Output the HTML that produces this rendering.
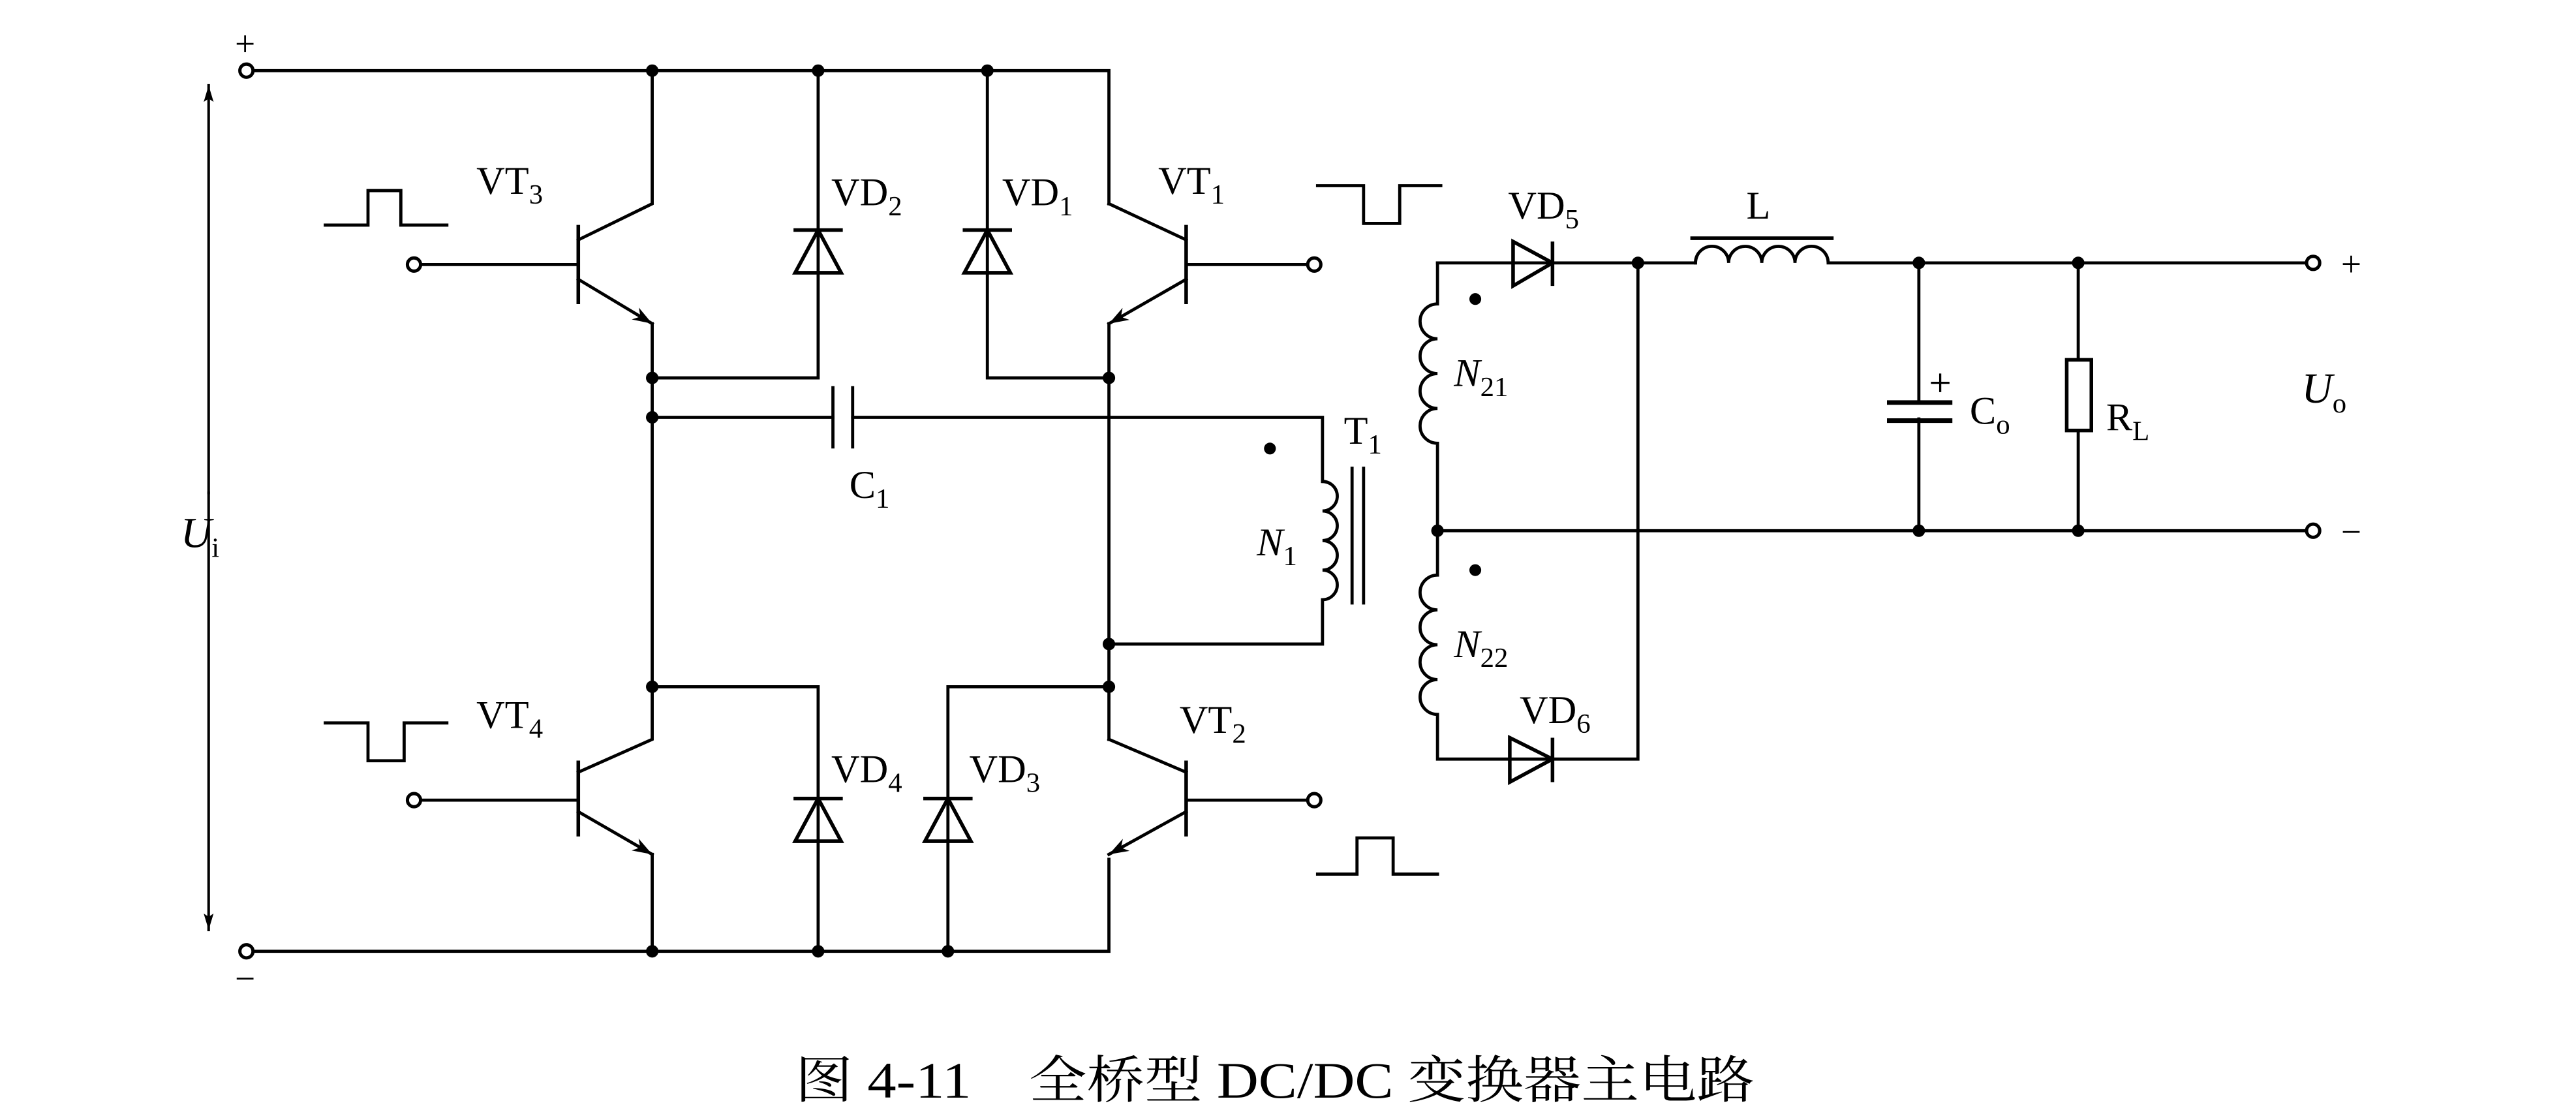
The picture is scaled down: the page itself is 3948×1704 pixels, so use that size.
<!DOCTYPE html>
<html><head><meta charset="utf-8"><style>
html,body{margin:0;padding:0;background:#fff;}
svg{display:block;}
text{font-family:"Liberation Serif","Noto Serif CJK SC",serif;fill:#000;}
</style></head><body>
<svg width="3948" height="1704" viewBox="0 0 1568 676.8" preserveAspectRatio="none" xmlns="http://www.w3.org/2000/svg">
<defs>
<marker id="ah" viewBox="0 0 10 10" refX="10" refY="5" markerWidth="15" markerHeight="12" orient="auto" markerUnits="userSpaceOnUse"><path d="M0,1.5 L10,5 L0,8.5 L3,5 Z" fill="#000"/></marker>
<marker id="ah2" viewBox="0 0 10 10" refX="10" refY="5" markerWidth="22" markerHeight="10" orient="auto" markerUnits="userSpaceOnUse"><path d="M0,2 L10,5 L0,8 L2,5 Z" fill="#000"/></marker>
</defs>
<g stroke="#000" stroke-width="1.9" fill="none" stroke-linecap="square">
<!-- rails -->
<path d="M154,43 H675 V124"/>
<path d="M154,579 H675 V523"/>
<!-- Ui arrow -->
<line x1="127" y1="300" x2="127" y2="52" marker-end="url(#ah2)" stroke-width="1.6"/>
<line x1="127" y1="300" x2="127" y2="566" marker-end="url(#ah2)" stroke-width="1.6"/>
<!-- VT3 -->
<path d="M397,43 V124 L352,146"/>
<line x1="352" y1="138" x2="352" y2="184" stroke-width="2.2"/>
<line x1="256" y1="161" x2="352" y2="161"/>
<line x1="352" y1="170" x2="397" y2="197" marker-end="url(#ah)"/>
<path d="M397,197 V418"/>
<!-- VT1 -->
<path d="M675,124 L722,146"/>
<line x1="722" y1="138" x2="722" y2="184" stroke-width="2.2"/>
<line x1="722" y1="161" x2="796" y2="161"/>
<line x1="722" y1="170" x2="675" y2="197" marker-end="url(#ah)"/>
<path d="M675,197 V450"/>
<!-- VD2 / VD1 -->
<path d="M498,43 V230 H397"/>
<path d="M601,43 V230 H675"/>
<!-- C1 line -->
<path d="M397,254 H507 M519,254 H805 V293"/>
<line x1="507" y1="236" x2="507" y2="272"/>
<line x1="519" y1="236" x2="519" y2="272"/>
<!-- primary coil -->
<path d="M805,293 a9,9 0 0 1 0,18 a9,9 0 0 1 0,18 a9,9 0 0 1 0,18 a9,9 0 0 1 0,18 V392 H675"/>
<line x1="823" y1="285" x2="823" y2="367"/>
<line x1="830" y1="285" x2="830" y2="367"/>
<!-- lower bridge -->
<path d="M397,418 H498 V579"/>
<path d="M675,418 H577 V579"/>
<!-- VT4 -->
<path d="M397,418 V450 L352,470"/>
<line x1="352" y1="464" x2="352" y2="508" stroke-width="2.2"/>
<line x1="256" y1="487" x2="352" y2="487"/>
<line x1="352" y1="494" x2="397" y2="520" marker-end="url(#ah)"/>
<path d="M397,520 V579"/>
<!-- VT2 -->
<path d="M675,450 L722,470"/>
<line x1="722" y1="464" x2="722" y2="508" stroke-width="2.2"/>
<line x1="722" y1="487" x2="796" y2="487"/>
<line x1="722" y1="494" x2="675" y2="520" marker-end="url(#ah)"/>
<!-- pulses -->
<path d="M198,137 H224 V116 H244 V137 H272"/>
<path d="M198,440 H224 V463 H246 V440 H272"/>
<path d="M802,113 H830 V136 H852 V113 H877"/>
<path d="M802,532 H826 V510 H848 V532 H875"/>
<!-- secondary -->
<path d="M875,160 V185 a10.6,10.6 0 0 0 0,21.2 a10.6,10.6 0 0 0 0,21.2 a10.6,10.6 0 0 0 0,21.2 a10.6,10.6 0 0 0 0,21.2 V350 a10.6,10.6 0 0 0 0,21.2 a10.6,10.6 0 0 0 0,21.2 a10.6,10.6 0 0 0 0,21.2 a10.6,10.6 0 0 0 0,21.2 V462 H997 V160"/>
<path d="M875,160 H1032"/>
<path d="M1032,160 a10.1,10.1 0 0 1 20.2,0 a10.1,10.1 0 0 1 20.2,0 a10.1,10.1 0 0 1 20.2,0 a10.1,10.1 0 0 1 20.2,0 H1404"/>
<line x1="1030" y1="145" x2="1115" y2="145" stroke-width="2.2"/>
<path d="M875,323 H1404"/>
<!-- Co -->
<path d="M1168,160 V245 M1168,255 V323"/>
<line x1="1150" y1="245" x2="1187" y2="245" stroke-width="2.8"/>
<line x1="1150" y1="256" x2="1187" y2="256" stroke-width="2.8"/>
<path d="M1176,233 h10 M1181,228 v10" stroke-width="1.3"/>
<!-- RL -->
<path d="M1265,160 V219 M1265,262 V323"/>
<rect x="1258" y="219" width="15" height="43" stroke-width="2.2"/>
<!-- terminals -->
<g fill="#fff" stroke-width="2">
<circle cx="150" cy="43" r="4"/><circle cx="150" cy="579" r="4"/>
<circle cx="252" cy="161" r="4"/><circle cx="800" cy="161" r="4"/>
<circle cx="252" cy="487" r="4"/><circle cx="800" cy="487" r="4"/>
<circle cx="1408" cy="160" r="4"/><circle cx="1408" cy="323" r="4"/>
</g>
</g>
<!-- diodes -->
<g stroke="#000" stroke-width="2.2" fill="none">
<path d="M483,140 H513 M498,140 L484,166 H512 Z"/>
<path d="M586,140 H616 M601,140 L587,166 H615 Z"/>
<path d="M483,486 H513 M498,486 L484,512 H512 Z"/>
<path d="M562,486 H592 M577,486 L563,512 H591 Z"/>
<path d="M945,147 V174 M945,160 L921,147 V174 Z"/>
<path d="M945,449 V476 M945,462 L919,449 V476 Z"/>
</g>
<!-- junction dots -->
<g fill="#000">
<circle cx="397" cy="43" r="3.8"/><circle cx="498" cy="43" r="3.8"/><circle cx="601" cy="43" r="3.8"/>
<circle cx="397" cy="230" r="3.8"/><circle cx="675" cy="230" r="3.8"/><circle cx="397" cy="254" r="3.8"/>
<circle cx="675" cy="392" r="3.8"/><circle cx="397" cy="418" r="3.8"/><circle cx="675" cy="418" r="3.8"/>
<circle cx="397" cy="579" r="3.8"/><circle cx="498" cy="579" r="3.8"/><circle cx="577" cy="579" r="3.8"/>
<circle cx="997" cy="160" r="3.8"/><circle cx="1168" cy="160" r="3.8"/><circle cx="1265" cy="160" r="3.8"/>
<circle cx="875" cy="323" r="3.8"/><circle cx="1168" cy="323" r="3.8"/><circle cx="1265" cy="323" r="3.8"/>
<circle cx="773" cy="273" r="3.6"/><circle cx="898" cy="182" r="3.6"/><circle cx="898" cy="347" r="3.6"/>
</g>
<!-- labels -->
<g font-size="24">
<text x="143" y="34" font-size="22">+</text>
<text x="143" y="603" font-size="22">−</text>
<text x="290" y="118">VT<tspan font-size="17" dy="6">3</tspan></text>
<text x="506" y="125">VD<tspan font-size="17" dy="6">2</tspan></text>
<text x="610" y="125">VD<tspan font-size="17" dy="6">1</tspan></text>
<text x="705" y="118">VT<tspan font-size="17" dy="6">1</tspan></text>
<text x="290" y="443">VT<tspan font-size="17" dy="6">4</tspan></text>
<text x="506" y="476">VD<tspan font-size="17" dy="6">4</tspan></text>
<text x="590" y="476">VD<tspan font-size="17" dy="6">3</tspan></text>
<text x="718" y="446">VT<tspan font-size="17" dy="6">2</tspan></text>
<text x="517" y="303">C<tspan font-size="17" dy="6">1</tspan></text>
<text x="818" y="270">T<tspan font-size="17" dy="6">1</tspan></text>
<text x="765" y="338" font-style="italic">N<tspan font-size="17" dy="6" font-style="normal">1</tspan></text>
<text x="110" y="333" font-style="italic" font-size="26">U<tspan font-size="17" dy="6" font-style="normal">i</tspan></text>
<text x="918" y="133">VD<tspan font-size="17" dy="6">5</tspan></text>
<text x="925" y="440">VD<tspan font-size="17" dy="6">6</tspan></text>
<text x="1063" y="133">L</text>
<text x="885" y="235" font-style="italic">N<tspan font-size="17" dy="6" font-style="normal">21</tspan></text>
<text x="885" y="400" font-style="italic">N<tspan font-size="17" dy="6" font-style="normal">22</tspan></text>
<text x="1199" y="258">C<tspan font-size="17" dy="6">o</tspan></text>
<text x="1282" y="262">R<tspan font-size="17" dy="6">L</tspan></text>
<text x="1401" y="245" font-style="italic" font-size="26">U<tspan font-size="17" dy="6" font-style="normal">o</tspan></text>
<text x="1425" y="168" font-size="22">+</text>
<text x="1425" y="331" font-size="22">−</text>
</g>
<text x="484" y="668" font-size="31" textLength="584" lengthAdjust="spacingAndGlyphs">图 4-11　全桥型 DC/DC 变换器主电路</text>
</svg>
</body></html>
